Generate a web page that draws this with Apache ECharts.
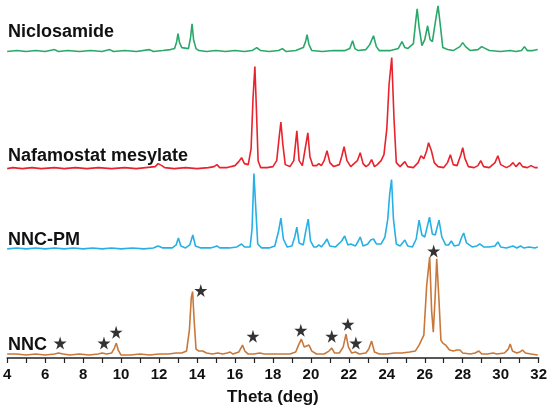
<!DOCTYPE html>
<html>
<head>
<meta charset="utf-8">
<script src="https://cdn.jsdelivr.net/npm/echarts@6/dist/echarts.min.js"></script>
<style>
  html, body { margin: 0; padding: 0; background: #fff; }
  #chart { width: 550px; height: 411px; }
</style>
</head>
<body>
<div id="chart"></div>
<script>
// pattern names, top to bottom
var names = ['Niclosamide', 'Nafamostat mesylate', 'NNC-PM', 'NNC'];

// [theta, intensity above own baseline]
var niclosamide = [
  [4.0,0],[4.5,1],[5.0,0],[5.5,1],[6.0,0],[6.5,2],[6.7,0],[7.2,1],[7.8,0],[8.4,1],[9.0,0],[9.4,2],[9.6,0],
  [10.2,1],[10.8,0],[11.5,2],[11.7,0],[12.2,1],[12.6,2],
  [12.82,3],[12.93,10],[13.0,18],[13.08,9],[13.2,4],[13.3,2],
  [13.55,3],[13.66,14],[13.74,28],[13.82,12],[13.95,3],[14.1,1],
  [14.5,0],[15.0,1],[15.5,0],[16.0,1],[16.5,0],[16.9,1],[17.15,4],[17.35,1],[17.8,0],[18.3,1],[18.5,3],[18.7,0],
  [19.2,1],[19.6,4],[19.72,10],[19.8,17],[19.9,7],[20.05,1],[20.6,0],[21.2,1],[21.8,1],
  [22.05,3],[22.2,11],[22.32,3],[22.5,1],[22.9,2],[23.1,7],[23.3,16],[23.45,5],[23.6,1],
  [24.2,1],[24.6,3],[24.8,10],[24.95,4],[25.1,3],[25.4,8],[25.52,30],[25.6,43],[25.7,25],[25.85,6],
  [26.0,12],[26.15,26],[26.28,12],[26.4,10],[26.6,35],[26.7,46],[26.8,30],[26.95,4],
  [27.2,2],[27.5,1],[27.85,5],[28.0,9],[28.15,5],[28.4,1],[28.8,2],[29.0,5],[29.2,3],[29.4,1],
  [30.0,0],[30.5,1],[30.6,3],[30.8,0],[31.1,1],[31.25,5],[31.4,1],[31.7,1],[31.95,2]
];
var nafamostat = [
  [4.0,0],[4.3,1],[4.8,0],[5.3,1],[5.8,0],[6.5,1],[7.0,0],[7.6,1],[8.2,0],[8.8,1],[9.5,0],[10.2,1],[10.8,0],
  [11.3,1],[11.8,2],[11.95,5],[12.05,7],[12.15,3],[12.3,1],[12.8,0],[13.4,1],[14.0,0],[14.6,1],
  [14.9,2],[15.05,4],[15.2,1],[15.6,1],[16.0,3],[16.2,7],[16.35,11],[16.5,5],[16.7,4],
  [16.85,20],[16.95,70],[17.05,103],[17.13,60],[17.22,8],[17.35,1],[17.7,1],
  [18.0,2],[18.2,8],[18.32,30],[18.42,47],[18.52,25],[18.65,4],[18.9,2],
  [19.1,8],[19.26,38],[19.38,8],[19.55,3],[19.7,20],[19.84,36],[19.95,12],[20.1,3],
  [20.3,3],[20.42,5],[20.55,3],[20.7,8],[20.85,18],[21.0,6],[21.2,2],
  [21.5,4],[21.62,12],[21.75,22],[21.9,8],[22.1,2],[22.45,8],[22.6,16],[22.75,5],[22.9,2],
  [23.05,4],[23.2,9],[23.35,2],[23.5,4],[23.7,8],[23.85,14],[24.0,40],[24.12,85],[24.26,112],[24.38,50],[24.5,6],
  [24.7,2],[24.95,7],[25.1,2],[25.4,1],[25.65,6],[25.8,13],[25.95,10],[26.1,18],[26.2,26],[26.35,18],[26.5,6],
  [26.7,2],[27.0,1],[27.2,6],[27.35,14],[27.5,4],[27.7,3],[27.9,14],[28.0,21],[28.12,10],[28.3,2],
  [28.6,1],[28.8,3],[28.95,8],[29.1,2],[29.4,1],[29.7,6],[29.85,13],[30.0,4],[30.3,1],
  [30.5,3],[30.65,6],[30.8,2],[31.0,6],[31.15,2],[31.4,1],[31.6,3],[31.8,1],[31.95,1]
];
var nncPM = [
  [4.0,0],[4.5,1],[5.0,0],[5.5,1],[6.0,0],[6.5,1],[7.0,0],[7.5,1],[8.0,0],[8.5,1],[9.0,0],[9.5,1],[10.0,0],
  [10.6,1],[11.2,0],[11.7,1],[11.95,3],[12.05,4],[12.2,1],[12.7,1],[12.9,4],[13.02,11],[13.15,3],[13.4,1],
  [13.62,4],[13.78,14],[13.92,3],[14.2,1],[14.7,1],[14.9,2],[15.05,3],[15.2,1],[15.7,1],
  [16.1,2],[16.35,5],[16.5,2],[16.8,2],[16.9,20],[17.0,76],[17.1,40],[17.2,5],[17.4,1],[17.8,1],
  [18.1,3],[18.3,18],[18.42,31],[18.55,10],[18.75,2],[19.0,3],[19.15,12],[19.26,22],[19.38,6],
  [19.6,4],[19.75,20],[19.86,30],[19.98,8],[20.15,2],[20.3,2],[20.42,4],[20.55,2],[20.72,6],[20.85,10],[21.0,3],
  [21.3,2],[21.62,8],[21.78,13],[21.95,4],[22.1,5],[22.2,6],[22.35,3],[22.5,8],[22.6,12],[22.75,3],
  [23.0,5],[23.15,9],[23.3,10],[23.45,5],[23.7,5],[23.9,12],[24.05,30],[24.15,55],[24.25,70],[24.35,30],[24.5,5],
  [24.7,3],[24.95,9],[25.1,3],[25.35,2],[25.55,10],[25.7,29],[25.85,14],[26.0,12],[26.15,24],[26.25,32],
  [26.4,15],[26.55,14],[26.75,29],[26.9,12],[27.1,4],[27.25,4],[27.4,8],[27.55,3],[27.8,4],[27.95,12],
  [28.05,16],[28.2,6],[28.5,2],[28.75,3],[28.9,5],[29.1,2],[29.4,2],[29.7,3],[29.85,7],[30.0,2],
  [30.3,1],[30.65,3],[30.85,1],[31.05,3],[31.2,1],[31.5,2],[31.8,1],[31.95,2]
];
var nnc = [
  [4.0,1],[4.5,1],[5.0,0],[5.5,1],[6.0,0],[6.5,1],[6.7,2],[6.8,4],[6.95,1],[7.3,0],[7.8,1],[8.3,0],[8.8,1],
  [9.0,2],[9.1,3],[9.25,1],[9.5,2],[9.65,7],[9.75,12],[9.85,5],[10.0,0],[10.5,0],[11.0,1],[11.5,0],
  [12.0,1],[12.5,1],[12.9,2],[13.2,2],[13.45,4],[13.6,25],[13.7,58],[13.77,64],[13.85,35],[13.95,6],
  [14.1,4],[14.3,4],[14.5,2],[14.8,1],[15.1,2],[15.2,4],[15.35,1],[15.6,2],[15.75,3],[15.9,1],
  [16.2,3],[16.4,10],[16.52,4],[16.7,1],[17.0,1],[17.3,2],[17.4,3],[17.55,1],[18.0,1],[18.5,1],[18.9,1],
  [19.2,3],[19.35,10],[19.5,16],[19.65,8],[19.75,7],[19.9,10],[20.05,4],[20.3,1],[20.7,1],
  [20.95,4],[21.1,7],[21.25,2],[21.5,2],[21.7,8],[21.85,21],[21.98,8],[22.15,2],[22.35,3],[22.55,1],
  [22.9,2],[23.05,6],[23.2,14],[23.35,3],[23.6,1],[24.0,1],[24.4,2],[24.8,2],[25.2,3],[25.5,4],
  [25.7,10],[25.8,8],[25.95,20],[26.1,70],[26.26,99],[26.36,45],[26.45,23],[26.55,60],[26.63,97],[26.75,55],
  [26.85,15],[26.95,12],[27.1,10],[27.3,5],[27.5,4],[27.7,5],[27.85,5],[28.0,2],[28.4,1],[28.65,2],
  [28.85,4],[29.0,1],[29.3,1],[29.6,2],[29.8,1],[30.2,2],[30.4,6],[30.5,11],[30.62,4],[30.85,2],
  [31.0,3],[31.15,5],[31.3,2],[31.6,1],[31.95,0]
];
var patterns = [niclosamide, nafamostat, nncPM, nnc];
// vertical stacking offsets for each pattern
var offsets = [309, 191, 110, 3];
var colors = ['#2aa86a', '#e8232c', '#26b0e4', '#c8783a'];

// starred NNC reflections: [theta, height above NNC baseline]
var stars = [[6.79,12],[9.1,12],[9.74,23],[14.2,65],[16.95,19],[19.47,25],[21.1,19],[21.95,31],[22.37,12],[26.47,105]];

var xTicks = { min: 4, max: 32, interval: 1 };

var starPath = 'path://M50,0 L61,35 L98,35 L68,57 L79,91 L50,70 L21,91 L32,57 L2,35 L39,35 Z';

function shift(arr, off) {
  return arr.map(function (p) { return [p[0], p[1] + off]; });
}

var series = patterns.map(function (d, i) {
  return {
    type: 'line',
    name: names[i],
    data: shift(d, offsets[i]),
    showSymbol: false,
    silent: true,
    lineStyle: { color: colors[i], width: 1.6 },
    animation: false
  };
});
series.push({
  type: 'scatter',
  data: shift(stars, offsets[3]),
  symbol: starPath,
  symbolSize: 13,
  itemStyle: { color: '#000' },
  silent: true,
  animation: false
});

// name labels sit just above each baseline
var labelY = [34, 158, 242, 347];
var graphic = names.map(function (n, i) {
  return {
    type: 'text',
    left: 8,
    top: labelY[i] - 11,
    style: { text: n, fill: '#111', font: 'bold 18px "Liberation Sans", Arial, sans-serif' }
  };
});

var chart = echarts.init(document.getElementById('chart'));
chart.setOption({
  backgroundColor: '#fff',
  animation: false,
  grid: { left: 7, right: 11, top: 0, bottom: 50 },
  xAxis: {
    type: 'value',
    min: xTicks.min,
    max: xTicks.max,
    interval: xTicks.interval,
    name: 'Theta (deg)',
    nameLocation: 'middle',
    nameGap: 31,
    nameTextStyle: { color: '#111', fontSize: 17, fontWeight: 'bold', fontFamily: 'Liberation Sans' },
    axisLine: { lineStyle: { color: '#222', width: 1.5 } },
    axisTick: { inside: false, length: 5, lineStyle: { color: '#222', width: 1.2 } },
    splitLine: { show: false },
    axisLabel: {
      color: '#111',
      fontSize: 15,
      fontWeight: 'bold',
      fontFamily: 'Liberation Sans',
      margin: 9,
      formatter: function (v) { return v % 2 === 0 ? String(v) : ''; }
    }
  },
  yAxis: { type: 'value', min: 0, max: 361, show: false },
  graphic: graphic,
  series: series
});
</script>
</body>
</html>
